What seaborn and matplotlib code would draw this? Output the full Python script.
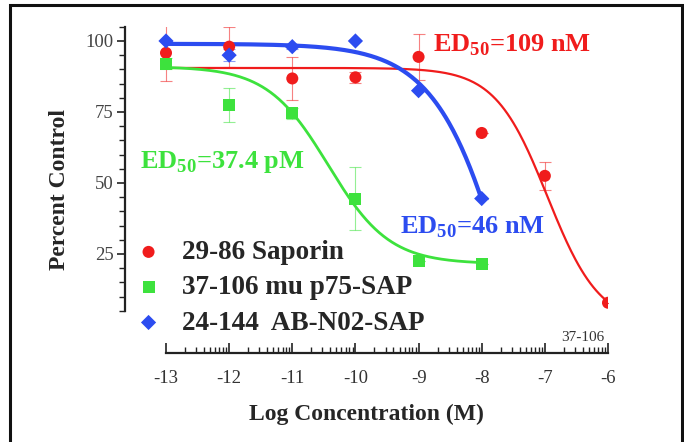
import numpy as np
import pandas as pd
import matplotlib.pyplot as plt
from matplotlib.patches import Rectangle
from matplotlib.ticker import FixedLocator
import seaborn as sns

# log concentration (M) of each test point
log_conc = [-13, -12, -11, -10, -9, -8, -7, -6]
conc_short = [-13, -12, -11, -10, -9, -8]

# percent control
saporin_pct = [95.8, 98.0, 86.8, 87.2, 94.4, 67.6, 52.5, 7.8]
saporin_err = [10.0, 7.0, 7.5, 2.0, 8.0, 0.0, 5.0, 0.0]
p75_pct = [92.0, 77.5, 74.5, 44.5, 22.5, 21.5]
p75_err = [2.0, 6.0, 2.0, 11.0, 0.0, 0.0]
abn02_pct = [100.0, 95.0, 98.0, 100.0, 82.5, 44.5]
abn02_err = [0.0, 2.0, 1.0, 0.0, 0.0, 0.0]

# 4-parameter fit: top, bottom, logEC50, hill slope
saporin_fit = [90.5, 0.0, -6.96, 1.05]
p75_fit = [91.0, 21.5, -10.43, 0.9]
abn02_fit = [99.0, -115.0, -7.34, 0.7]

labels = ["29-86 Saporin", "37-106 mu p75-SAP", "24-144  AB-N02-SAP"]
ed50_text = ["ED$_{50}$=109 nM", "ED$_{50}$=37.4 pM", "ED$_{50}$=46 nM"]

red, green, blue = "#f01c1c", "#3de23d", "#2c4cf0"

sns.set_style("ticks")
plt.rcParams["font.family"] = ["Liberation Serif", "DejaVu Serif"]
plt.rcParams["mathtext.fontset"] = "custom"
plt.rcParams["mathtext.rm"] = "Liberation Serif:bold"
plt.rcParams["mathtext.bf"] = "Liberation Serif:bold"
plt.rcParams["axes.unicode_minus"] = False


def four_pl(x, p):
    top, bottom, logec, hill = p
    return bottom + (top - bottom) / (1 + 10 ** ((x - logec) * hill))


fig = plt.figure(figsize=(6.84, 4.42), dpi=100)
ax = fig.add_axes([125 / 684, 1 - 353 / 442, 483 / 684, (353 - 26.5) / 442])

xs_long = np.linspace(-13, -6, 300)
xs_short = np.linspace(-13, -8, 300)
curves = [
    (xs_long, saporin_fit, red, 1.6),
    (xs_short, p75_fit, green, 2.0),
    (xs_short, abn02_fit, blue, 3.0),
]
for xs, p, col, lw in curves:
    cdf = pd.DataFrame({"x": xs, "y": four_pl(xs, p)})
    sns.lineplot(data=cdf, x="x", y="y", color=col, lw=lw, ax=ax, zorder=3)

series = [
    (log_conc, saporin_pct, saporin_err, red, "o", labels[0]),
    (conc_short, p75_pct, p75_err, green, "s", labels[1]),
    (conc_short, abn02_pct, abn02_err, blue, "D", labels[2]),
]
for xv, yv, ev, col, mk, lab in series:
    ax.errorbar(xv, yv, yerr=ev, fmt="none", ecolor=col, elinewidth=0.8,
                capsize=4, capthick=0.8, alpha=0.55, zorder=2)
    df = pd.DataFrame({"x": xv, "y": yv})
    sns.scatterplot(data=df, x="x", y="y", color=col, marker=mk,
                    s=75 if mk != "D" else 60, edgecolor="none", ax=ax,
                    zorder=4, label=lab)

ax.set_xlim(-13 - 41 / 63.14, -6)
ax.set_ylim(-9.9, 105.1)
ax.spines["left"].set_bounds(5, 105)
ax.spines["bottom"].set_bounds(-13, -6)
ax.spines["top"].set_visible(False)
ax.spines["right"].set_visible(False)
for s in ("left", "bottom"):
    ax.spines[s].set_linewidth(1.6)
    ax.spines[s].set_color("#222222")

ax.set_yticks([25, 50, 75, 100])
ax.yaxis.set_minor_locator(FixedLocator(np.arange(5, 106, 5)))
ax.set_xticks(range(-13, -5))
minor_x = [d + np.log10(k) for d in range(-13, -6) for k in range(2, 10)]
ax.xaxis.set_minor_locator(FixedLocator(minor_x))
ax.tick_params(axis="y", which="major", direction="out", length=6, width=1.2,
               labelsize=13.5, labelcolor="#444444", color="#222222", pad=2)
ax.tick_params(axis="y", which="minor", direction="out", length=4, width=1.0,
               color="#222222")
ax.tick_params(axis="x", which="major", direction="in", length=7, width=1.2,
               labelsize=13.5, labelcolor="#333333", color="#222222", pad=12)
ax.tick_params(axis="x", which="minor", direction="in", length=4, width=1.0,
               color="#222222")

ax.set_xlabel("Log Concentration (M)", fontsize=17, fontweight="bold", labelpad=12)
ax.set_ylabel("Percent Control", fontsize=17, fontweight="bold", labelpad=11)

ax.text(-8.77, 98.6, ed50_text[0], color=red, fontsize=19, fontweight="bold",
        ha="left", va="center")
ax.text(-13.41, 57.4, ed50_text[1], color=green, fontsize=19, fontweight="bold",
        ha="left", va="center")
ax.text(-9.29, 34.5, ed50_text[2], color=blue, fontsize=19, fontweight="bold",
        ha="left", va="center")
ax.text(-6.05, -4.3, "37-106", fontsize=11, color="#333333", ha="right",
        va="center")

ax.legend(loc="upper left", bbox_to_anchor=(135 / 684, 1 - 240 / 442),
          bbox_transform=fig.transFigure, frameon=False, borderpad=0,
          borderaxespad=0, handlelength=1.0, handletextpad=0.75,
          labelspacing=0.38, prop={"family": "Liberation Serif", "weight": "bold", "size": 19.5})

fig.patches.append(Rectangle((10 / 684, -0.02), 672 / 684, 1.02 - 5 / 442,
                             transform=fig.transFigure, fill=False,
                             edgecolor="#111111", lw=2.2))

fig.savefig("out.png", dpi=100)
